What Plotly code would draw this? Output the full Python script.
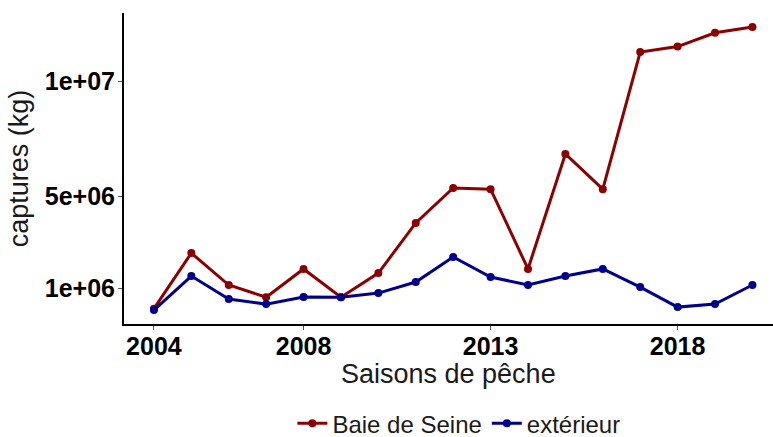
import plotly.graph_objects as go

years = list(range(2004, 2021))
baie_de_seine = [0.1e6, 2.52e6, 1.13e6, 0.6e6, 1.83e6, 0.6e6, 1.65e6, 3.83e6, 5.35e6,
                 5.3e6, 1.83e6, 6.83e6, 5.3e6, 11.26e6, 11.5e6, 12.1e6, 12.35e6]
exterieur = [0.04e6, 1.52e6, 0.52e6, 0.3e6, 0.61e6, 0.6e6, 0.78e6, 1.26e6, 2.35e6,
             1.48e6, 1.13e6, 1.52e6, 1.83e6, 1.04e6, 0.17e6, 0.3e6, 1.13e6]
x_ticks = [2004, 2008, 2013, 2018]
y_ticks = [1e6, 5e6, 1e7]
y_tick_labels = ["1e+06", "5e+06", "1e+07"]

FONT = "Liberation Sans, Arial, sans-serif"

fig = go.Figure()
fig.add_trace(go.Scatter(x=years, y=baie_de_seine, mode="lines+markers", name="Baie de Seine",
                         line=dict(color="#8B0000", width=3),
                         marker=dict(color="#8B0000", size=8)))
fig.add_trace(go.Scatter(x=years, y=exterieur, mode="lines+markers", name="extérieur",
                         line=dict(color="#00008B", width=3),
                         marker=dict(color="#00008B", size=8)))

fig.update_layout(
    width=773, height=437,
    margin=dict(l=124, r=0, t=13, b=113, autoexpand=False),
    paper_bgcolor="white", plot_bgcolor="white",
    font=dict(family=FONT, color="black"),
    showlegend=True,
    legend=dict(orientation="h", x=0.516, xanchor="center", y=-0.248, yanchor="top",
                font=dict(size=24, color="#1a1a1a"), itemwidth=30, tracegroupgap=0),
    xaxis=dict(range=[2003.2, 2020.55], tickvals=x_ticks, showgrid=False, zeroline=False,
               automargin=False,
               showline=True, linecolor="black", linewidth=2,
               ticks="outside", ticklen=4, tickcolor="#555555", ticklabelstandoff=-5,
               tickfont=dict(size=25, family=FONT, color="black", weight="bold")),
    yaxis=dict(range=[-0.565e6, 12.96e6], tickvals=y_ticks, ticktext=y_tick_labels,
               showgrid=False, zeroline=False, automargin=False,
               showline=True, linecolor="black", linewidth=2,
               ticks="outside", ticklen=4, tickcolor="#555555", ticklabelstandoff=-2,
               tickfont=dict(size=25, family=FONT, color="black", weight="bold"),
               title=dict(text="captures (kg)", font=dict(size=27, color="#1a1a1a"), standoff=8)),
    annotations=[dict(text="Saisons de pêche", xref="paper", yref="paper", x=0.5, y=-0.161,
                      xanchor="center", yanchor="middle", showarrow=False,
                      font=dict(size=27, color="#1a1a1a", family=FONT))],
)

fig.write_html("out.html", config={"displayModeBar": False},
               post_script="document.body.style.margin='0';document.body.style.overflow='hidden';")
